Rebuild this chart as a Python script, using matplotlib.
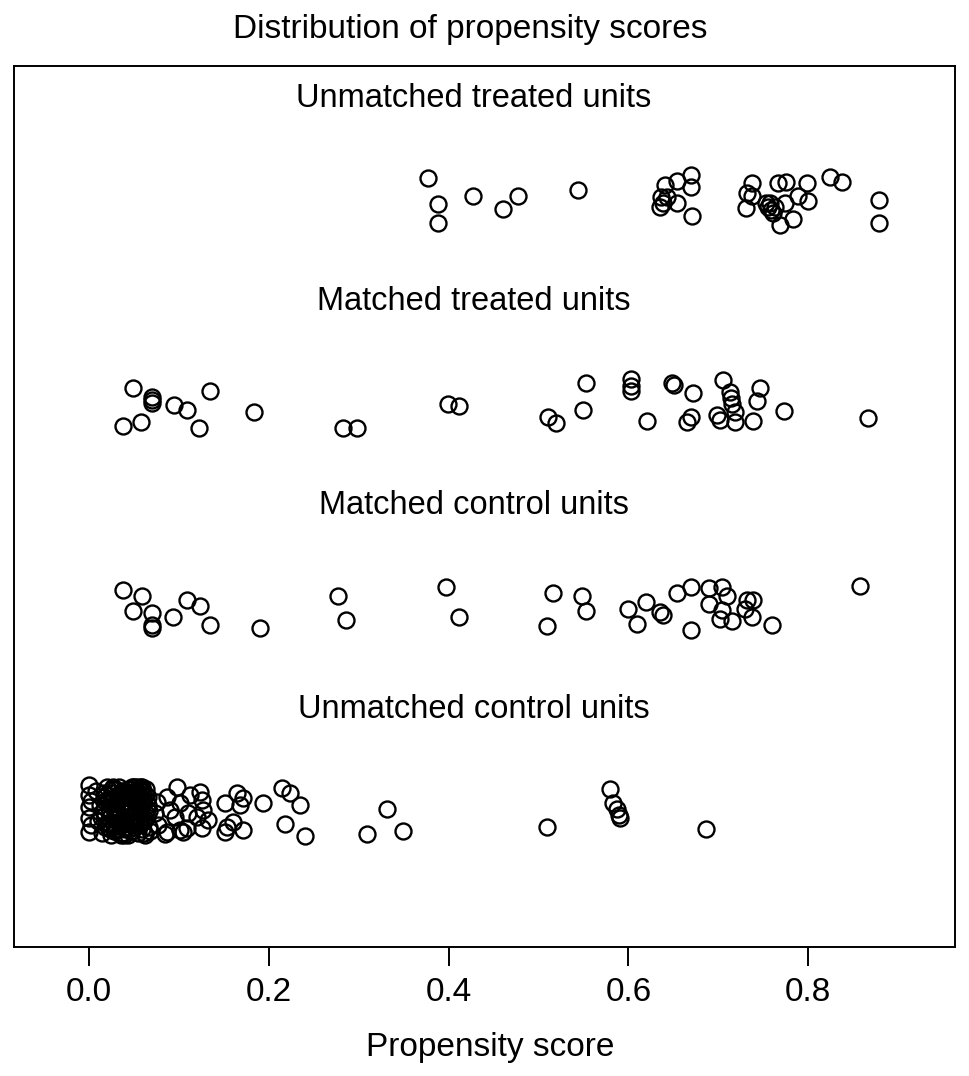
import matplotlib
matplotlib.use("Agg")
import matplotlib.pyplot as plt
import numpy as np

plt.rcParams['font.family'] = ['Liberation Sans', 'DejaVu Sans']

group_labels = ["Unmatched treated units", "Matched treated units",
                "Matched control units", "Unmatched control units"]
group_levels = [4, 3, 2, 1]

# propensity score and vertical jitter (offset from group level)
unm_treat_x = [0.3773, 0.3878, 0.3878, 0.4267, 0.4608, 0.4768, 0.5436, 0.6359, 0.6352,
               0.6407, 0.6430, 0.6385, 0.6538, 0.6538, 0.6697, 0.6697, 0.6705, 0.7372,
               0.7317, 0.7372, 0.7309, 0.7532, 0.7554, 0.7576, 0.7587, 0.7613, 0.7632,
               0.7687, 0.7668, 0.7754, 0.7743, 0.7835, 0.7891, 0.7984, 0.8002, 0.8244,
               0.8381, 0.8792, 0.8792]
unm_treat_j = [0.106, -0.022, -0.112, 0.019, -0.046, 0.021, 0.049, 0.016, -0.033,
               0.073, 0.014, -0.015, 0.094, -0.014, 0.122, 0.062, -0.079, 0.081,
               0.032, 0.019, -0.041, -0.015, -0.035, -0.017, -0.050, -0.066, -0.035,
               -0.123, 0.084, 0.089, -0.014, -0.095, 0.019, 0.081, -0.004, 0.114,
               0.089, 0.000, -0.112]

mat_treat_x = [0.0490, 0.0694, 0.0694, 0.0694, 0.0372, 0.0575, 0.0943, 0.1091, 0.1224,
               0.1343, 0.1836, 0.2827, 0.2976, 0.3996, 0.4115, 0.5109, 0.5191, 0.5498,
               0.5528, 0.6029, 0.6029, 0.6029, 0.6204, 0.6489, 0.6507, 0.6722, 0.6649,
               0.6693, 0.7049, 0.7131, 0.7138, 0.7150, 0.6983, 0.7019, 0.7186, 0.7186,
               0.7390, 0.7465, 0.7428, 0.7732, 0.8663]
mat_treat_j = [0.078, 0.034, 0.018, 0.001, -0.108, -0.089, -0.007, -0.031, -0.121,
               0.062, -0.040, -0.118, -0.118, -0.003, -0.010, -0.067, -0.097, -0.031,
               0.100, 0.121, 0.088, 0.062, -0.085, 0.100, 0.091, 0.051, -0.089,
               -0.064, 0.116, 0.055, 0.026, -0.003, -0.056, -0.081, -0.040, -0.089,
               -0.085, 0.078, 0.013, -0.036, -0.072]

mat_ctrl_x = [0.0372, 0.0583, 0.0490, 0.0694, 0.0694, 0.0694, 0.0935, 0.1091, 0.1232,
              0.1343, 0.1900, 0.2771, 0.2857, 0.3967, 0.4118, 0.5097, 0.5164, 0.5480,
              0.5528, 0.5999, 0.6092, 0.6196, 0.6352, 0.6382, 0.6538, 0.6693, 0.6693,
              0.6900, 0.6900, 0.7038, 0.7101, 0.7038, 0.7019, 0.7150, 0.7317, 0.7390,
              0.7298, 0.7372, 0.7595, 0.8578]
mat_ctrl_j = [0.085, 0.055, -0.017, -0.029, -0.087, -0.103, -0.046, 0.036, 0.006,
              -0.087, -0.103, 0.055, -0.062, 0.098, -0.049, -0.092, 0.072, 0.055,
              -0.018, -0.010, -0.082, 0.025, -0.022, -0.038, 0.072, 0.098, -0.111,
              0.093, 0.015, 0.098, 0.055, -0.013, -0.059, -0.066, 0.036, 0.036,
              -0.010, -0.049, -0.087, 0.105]

unm_ctrl_x = [0.000, 0.000, 0.000, 0.000, 0.000, 0.002, 0.002,
              0.008, 0.010, 0.012, 0.014, 0.016, 0.018, 0.020, 0.021, 0.023, 0.024,
              0.026, 0.027, 0.028, 0.029, 0.030, 0.031, 0.032, 0.033, 0.034, 0.035,
              0.036, 0.037, 0.038, 0.039, 0.040, 0.041, 0.042, 0.043, 0.044, 0.045,
              0.046, 0.047, 0.048, 0.049, 0.050, 0.051, 0.052, 0.053, 0.054, 0.055,
              0.056, 0.057, 0.058, 0.059, 0.060, 0.062, 0.063, 0.064, 0.065, 0.066,
              0.025, 0.033, 0.041, 0.047, 0.053, 0.038, 0.044,
              0.015, 0.019, 0.022, 0.026, 0.029, 0.031, 0.034, 0.036, 0.039, 0.042,
              0.045, 0.048, 0.050, 0.052, 0.055, 0.058, 0.061, 0.063, 0.067, 0.068,
              0.017, 0.021, 0.027, 0.032, 0.035, 0.040, 0.043, 0.046, 0.051, 0.054,
              0.057, 0.060, 0.064, 0.030, 0.037, 0.044, 0.049, 0.056, 0.024, 0.062,
              0.013, 0.018, 0.023, 0.028, 0.033, 0.038, 0.043, 0.048, 0.053, 0.058,
              0.016, 0.022, 0.027, 0.031, 0.036, 0.041, 0.046, 0.051, 0.056, 0.061,
              0.020, 0.025, 0.030, 0.035, 0.040, 0.045, 0.050, 0.055, 0.059, 0.065,
              0.0749, 0.0731, 0.0768, 0.0861, 0.0898, 0.0861, 0.0973, 0.1009, 0.0953,
              0.1009, 0.1121, 0.1102, 0.1084, 0.1232, 0.1251, 0.1195, 0.1269, 0.1251,
              0.1325, 0.1510, 0.1640, 0.1714, 0.1677, 0.1528, 0.1603, 0.1510, 0.1707,
              0.0843, 0.1047,
              0.1937, 0.2141, 0.2234, 0.2345, 0.2178, 0.2400, 0.3087, 0.3317, 0.3495,
              0.5091, 0.5795, 0.5832, 0.5870, 0.5899, 0.5906, 0.6864]
unm_ctrl_j = [0.127, 0.078, 0.021, -0.036, -0.102, 0.050, -0.070,
              0.10, -0.05, 0.03, -0.11, 0.07, -0.02, 0.12, -0.08, 0.04, -0.12,
              0.09, -0.04, 0.01, 0.11, -0.09, 0.06, -0.01, 0.12, -0.06, 0.03,
              -0.11, 0.08, -0.03, 0.10, 0.00, -0.08, 0.05, -0.12, 0.11, -0.05,
              0.02, 0.09, -0.10, 0.06, -0.02, 0.12, -0.07, 0.03, -0.11, 0.08,
              -0.04, 0.10, 0.00, -0.09, 0.05, -0.12, 0.11, -0.03, 0.07, -0.08,
              0.06, -0.03, 0.08, -0.07, 0.10, 0.04, -0.09,
              0.00, 0.08, -0.06, 0.12, -0.10, 0.04, 0.09, -0.07, -0.12, 0.02,
              0.07, 0.12, -0.06, 0.09, -0.01, 0.12, -0.05, 0.08, 0.00, -0.10,
              -0.08, 0.05, -0.07, 0.08, -0.12, -0.06, 0.03, -0.10, 0.04, 0.12,
              -0.06, 0.10, 0.01, 0.02, -0.05, 0.07, 0.12, -0.07, -0.02, -0.04,
              -0.03, 0.05, -0.09, 0.01, 0.07, -0.05, 0.03, 0.06, -0.04, 0.02,
              0.09, -0.01, -0.10, 0.04, 0.10, -0.08, -0.03, 0.00, 0.05, -0.11,
              -0.06, 0.11, -0.02, 0.06, -0.09, 0.08, -0.05, 0.01, 0.12, 0.03,
              0.046, -0.011, -0.069, 0.070, 0.005, -0.101, 0.119, 0.038, -0.028,
              -0.093, 0.079, -0.011, -0.085, 0.095, 0.054, -0.028, 0.005, -0.085,
              -0.044, 0.038, 0.087, 0.062, 0.029, -0.077, -0.053, -0.101, -0.093,
              -0.115, -0.105,
              0.038, 0.111, 0.087, 0.029, -0.064, -0.121, -0.113, 0.008, -0.098,
              -0.080, 0.107, 0.038, 0.008, -0.020, -0.036, -0.090]

groups_x = [unm_treat_x, mat_treat_x, mat_ctrl_x, unm_ctrl_x]
groups_j = [unm_treat_j, mat_treat_j, mat_ctrl_j, unm_ctrl_j]

xticks = [0.0, 0.2, 0.4, 0.6, 0.8]
xlim = (-0.0838, 0.9635)
ylim = (0.334, 4.659)

fig = plt.figure(figsize=(9.69, 10.76), dpi=100)
ax = fig.add_axes([0.01445, 0.12017, 0.9711, 0.81877])

for lvl, xs, js, lab in zip(group_levels, groups_x, groups_j, group_labels):
    ys = lvl + np.array(js)
    ax.plot(xs, ys, 'o', mfc='none', mec='black', ms=11.5, mew=1.7, ls='none')
    ax.text(0.428, lvl + 0.5, lab, ha='center', va='center', fontsize=23.5)

ax.set_xlim(*xlim)
ax.set_ylim(*ylim)
ax.set_xticks(xticks)
ax.set_xticklabels(["%.1f" % t for t in xticks])
ax.set_yticks([])
ax.tick_params(axis='x', length=14, width=1.4, pad=8, labelsize=24)
for sp in ax.spines.values():
    sp.set_linewidth(1.4)

fig.text(470 / 969, 1 - 37.7 / 1076, "Distribution of propensity scores",
         ha='center', va='baseline', fontsize=24)
fig.text(490 / 969, 1 - 1056 / 1076, "Propensity score",
         ha='center', va='baseline', fontsize=24)

fig.savefig("out.png", dpi=100)
